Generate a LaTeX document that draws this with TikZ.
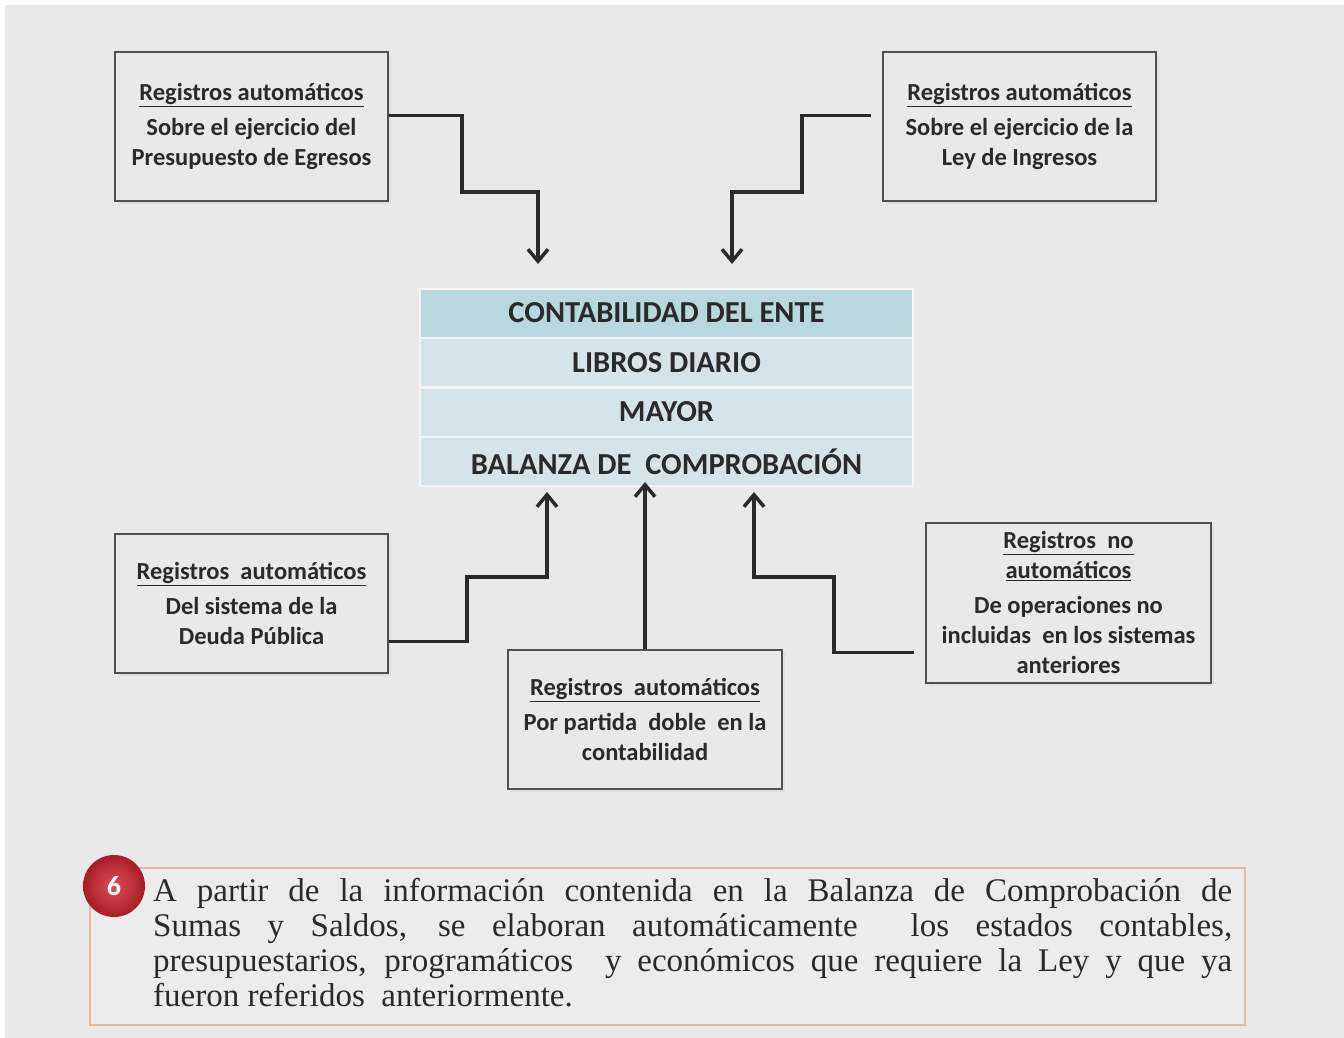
\documentclass[tikz,border=0pt]{standalone}
\usepackage{fontspec}
\setmainfont{Liberation Serif}
\newfontfamily\calibri{Carlito}
\usetikzlibrary{arrows.meta,shadows}

\definecolor{fondo}{RGB}{233,233,233}
\definecolor{tealosc}{RGB}{183,216,221}
\definecolor{tealcla}{RGB}{214,228,233}
\definecolor{borde}{RGB}{80,80,80}
\definecolor{marron}{RGB}{226,188,165}
\definecolor{texto}{RGB}{42,42,42}
\definecolor{rojoclaro}{RGB}{222,78,84}
\definecolor{rojoosc}{RGB}{168,30,38}

\tikzset{
  caja/.style={draw=borde, line width=2pt, fill=fondo, align=center, inner sep=0pt,
    font=\calibri\bfseries\fontsize{24.5}{30}\selectfont, text=texto,
    drop shadow={opacity=0.10, shadow xshift=3pt, shadow yshift=-3pt}},
  fila/.style={fill=tealcla, draw=fondo!50!white, line width=2pt, inner sep=0pt,
    minimum width=493pt, minimum height=49pt,
    font=\calibri\bfseries\fontsize{30.5}{32}\selectfont, text=texto},
  flecha/.style={line width=3.5pt, draw=texto, -{Straight Barb[length=12pt,width=20pt]}}
}

\begin{document}
\begin{tikzpicture}[x=1pt,y=-1pt]

\useasboundingbox (0,0) rectangle (1344,1038);
%背景
\fill[white] (0,0) rectangle (1344,1038);
\fill[fondo] (5,5) rectangle (1344,1038);

%中间的表格
\node[fila, fill=tealosc] (ente) at (666.5,313) {CONTABILIDAD DEL ENTE};
\node[fila] (diario) at (666.5,362.5) {LIBROS DIARIO};
\node[fila] (mayor) at (666.5,412) {MAYOR};
\node[fila] (balanza) at (666.5,461.5) {BALANZA DE\ \ COMPROBACIÓN};

%上面两个框
\node[caja, minimum width=273pt, minimum height=149pt] (egresos) at (251.5,126.5)
  {\underline{Registros automáticos}\\[5pt]Sobre el ejercicio del\\Presupuesto de Egresos};
\node[caja, minimum width=273pt, minimum height=149pt] (ingresos) at (1019.5,126.5)
  {\underline{Registros automáticos}\\[5pt]Sobre el ejercicio de la\\Ley de Ingresos};

%下面三个框
\node[caja, minimum width=273pt, minimum height=139pt] (deuda) at (251.5,603.5)
  {\underline{Registros\ \ automáticos}\\[5pt]Del sistema de la\\Deuda Pública};
\node[caja, minimum width=274pt, minimum height=139pt] (partida) at (645,719.5)
  {\underline{Registros\ \ automáticos}\\[5pt]Por partida\ \ doble\ \ en la\\contabilidad};
\node[caja, minimum width=285pt, minimum height=160pt] (noauto) at (1068.5,602.5)
  {\underline{Registros\ \ no}\\\underline{automáticos}\\[5pt]De operaciones no\\incluidas\ \ en los sistemas\\anteriores};

%箭头的端点
\coordinate (p1) at (538,264);
\coordinate (p2) at (732,264);
\coordinate (q1) at (547,492);
\coordinate (q2) at (645,482);
\coordinate (q3) at (754,492);

%上面的箭头
\draw[flecha] ([yshift=11pt]egresos.east) -| (462,192) -| (p1);
\draw[flecha] ([xshift=-11pt,yshift=11pt]ingresos.west) -| (802,192) -| (p2);

%下面的箭头
\draw[flecha] ([yshift=-38pt]deuda.east) -| (467,577) -| (q1);
\draw[flecha] (partida.north) -- (q2);
\draw[flecha] ([xshift=-11pt,yshift=-50pt]noauto.west) -| (834,577) -| (q3);

%下面的说明框
\node[draw=marron, line width=2pt, fill=fondo!85!white, minimum width=1155pt,
  minimum height=157pt, inner sep=0pt] (nota) at (667.5,946.5) {};
\node[circle, inner color=rojoclaro, outer color=rojoosc, minimum size=62pt, inner sep=0pt,
  text=white, font=\calibri\bfseries\fontsize{28}{30}\selectfont] (seis) at (114,886) {6};
\node[anchor=north west, inner sep=0pt, text width=1079pt, align=justify, text=texto,
  font=\fontsize{33}{35}\selectfont] (texto) at (153,878)
  {A partir de la información contenida en la Balanza de Comprobación de\linebreak
   Sumas y Saldos, se elaboran automáticamente\ \ los estados contables,\linebreak
   presupuestarios, programáticos\ \ y económicos que requiere la Ley y que ya\linebreak
   fueron referidos\ \ anteriormente.};

\end{tikzpicture}
\end{document}
